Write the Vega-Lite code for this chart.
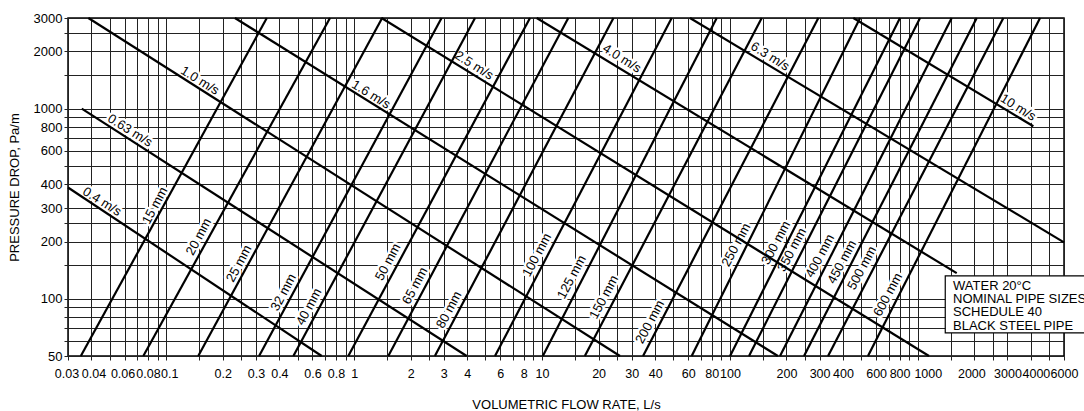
{
  "$schema": "https://vega.github.io/schema/vega-lite/v6.json",
  "width": 996,
  "height": 338,
  "autosize": "none",
  "padding": {"left": 68, "top": 18, "right": 20, "bottom": 55},
  "background": "white",
  "config": {
    "font": "Liberation Sans",
    "view": {"stroke": "#000", "strokeWidth": 1.5}
  },
  "datasets": {
    "pipes": [
      {"name": "15 mm", "q": 0.0351, "dp": 50}, {"name": "15 mm", "q": 0.343, "dp": 3000},
      {"name": "20 mm", "q": 0.0755, "dp": 50}, {"name": "20 mm", "q": 0.744, "dp": 3000},
      {"name": "25 mm", "q": 0.148, "dp": 50}, {"name": "25 mm", "q": 1.41, "dp": 3000},
      {"name": "32 mm", "q": 0.312, "dp": 50}, {"name": "32 mm", "q": 2.92, "dp": 3000},
      {"name": "40 mm", "q": 0.475, "dp": 50}, {"name": "40 mm", "q": 4.40, "dp": 3000},
      {"name": "50 mm", "q": 0.931, "dp": 50}, {"name": "50 mm", "q": 8.63, "dp": 3000},
      {"name": "65 mm", "q": 1.52, "dp": 50}, {"name": "65 mm", "q": 13.8, "dp": 3000},
      {"name": "80 mm", "q": 2.69, "dp": 50}, {"name": "80 mm", "q": 24.0, "dp": 3000},
      {"name": "100 mm", "q": 5.62, "dp": 50}, {"name": "100 mm", "q": 49.0, "dp": 3000},
      {"name": "125 mm", "q": 10.1, "dp": 50}, {"name": "125 mm", "q": 85.1, "dp": 3000},
      {"name": "150 mm", "q": 16.9, "dp": 50}, {"name": "150 mm", "q": 147.7, "dp": 3000},
      {"name": "200 mm", "q": 34.5, "dp": 50}, {"name": "200 mm", "q": 295.6, "dp": 3000},
      {"name": "250 mm", "q": 62.6, "dp": 50}, {"name": "250 mm", "q": 493, "dp": 3000},
      {"name": "300 mm", "q": 100.2, "dp": 50}, {"name": "300 mm", "q": 804, "dp": 3000},
      {"name": "350 mm", "q": 126.4, "dp": 50}, {"name": "350 mm", "q": 1028, "dp": 3000},
      {"name": "400 mm", "q": 184.8, "dp": 50}, {"name": "400 mm", "q": 1515, "dp": 3000},
      {"name": "450 mm", "q": 248, "dp": 50}, {"name": "450 mm", "q": 2059, "dp": 3000},
      {"name": "500 mm", "q": 333, "dp": 50}, {"name": "500 mm", "q": 2853, "dp": 3000},
      {"name": "600 mm", "q": 543, "dp": 50}, {"name": "600 mm", "q": 4474, "dp": 3000}
    ],
    "velocities": [
      {"name": "0.4 m/s", "q": 0.03, "dp": 385}, {"name": "0.4 m/s", "q": 0.672, "dp": 50},
      {"name": "0.63 m/s", "q": 0.0355, "dp": 1000}, {"name": "0.63 m/s", "q": 3.97, "dp": 50},
      {"name": "1.0 m/s", "q": 0.0385, "dp": 3000}, {"name": "1.0 m/s", "q": 26.0, "dp": 50},
      {"name": "1.6 m/s", "q": 0.232, "dp": 3000}, {"name": "1.6 m/s", "q": 180, "dp": 50},
      {"name": "2.5 m/s", "q": 1.40, "dp": 3000}, {"name": "2.5 m/s", "q": 1147, "dp": 50},
      {"name": "4.0 m/s", "q": 9.37, "dp": 3000}, {"name": "4.0 m/s", "q": 1611, "dp": 136.4},
      {"name": "6.3 m/s", "q": 61.3, "dp": 3000}, {"name": "6.3 m/s", "q": 6000, "dp": 198},
      {"name": "10 m/s", "q": 453.9, "dp": 3000}, {"name": "10 m/s", "q": 4121, "dp": 808}
    ],
    "pipeLabels": [
      {"name": "15 mm", "q": 0.0871, "dp": 309},
      {"name": "20 mm", "q": 0.149, "dp": 212},
      {"name": "25 mm", "q": 0.244, "dp": 153},
      {"name": "32 mm", "q": 0.421, "dp": 108},
      {"name": "40 mm", "q": 0.575, "dp": 90.6},
      {"name": "50 mm", "q": 1.515, "dp": 156},
      {"name": "65 mm", "q": 2.11, "dp": 117},
      {"name": "80 mm", "q": 3.2, "dp": 87.4},
      {"name": "100 mm", "q": 9.41, "dp": 170},
      {"name": "125 mm", "q": 14.4, "dp": 130},
      {"name": "150 mm", "q": 21.4, "dp": 102},
      {"name": "200 mm", "q": 37.6, "dp": 75.5},
      {"name": "250 mm", "q": 108, "dp": 192},
      {"name": "300 mm", "q": 176, "dp": 197},
      {"name": "350 mm", "q": 214, "dp": 181},
      {"name": "400 mm", "q": 302, "dp": 168},
      {"name": "450 mm", "q": 395, "dp": 156},
      {"name": "500 mm", "q": 505, "dp": 145},
      {"name": "600 mm", "q": 694, "dp": 105}
    ],
    "velLabels": [
      {"name": "0.4 m/s", "q": 0.0455, "dp": 324},
      {"name": "0.63 m/s", "q": 0.0641, "dp": 767},
      {"name": "1.0 m/s", "q": 0.151, "dp": 1406},
      {"name": "1.6 m/s", "q": 1.23, "dp": 1187},
      {"name": "2.5 m/s", "q": 4.35, "dp": 1688},
      {"name": "4.0 m/s", "q": 26.6, "dp": 1837},
      {"name": "6.3 m/s", "q": 163.5, "dp": 1882},
      {"name": "10 m/s", "q": 3417, "dp": 1014}
    ],
    "box": [{"q": 1400, "q2": 9300, "dp": 132, "dp2": 66.1}],
    "note": [{"name": "WATER 20°C\nNOMINAL PIPE SIZES\nSCHEDULE 40\nBLACK STEEL PIPE", "q": 1540, "dp": 111.4}]
  },
  "encoding": {
    "x": {
      "field": "q", "type": "quantitative",
      "scale": {"type": "log", "domain": [0.03, 6000], "nice": false},
      "axis": {
        "title": "VOLUMETRIC FLOW RATE, L/s",
        "values": [0.03,0.04,0.05,0.06,0.07,0.08,0.09,0.1,0.15,0.2,0.25,0.3,0.4,0.5,0.6,0.7,0.8,0.9,1,1.5,2,2.5,3,4,5,6,7,8,9,10,15,20,25,30,40,50,60,70,80,90,100,150,200,250,300,400,500,600,700,800,900,1000,1500,2000,2500,3000,4000,5000,6000],
        "format": "~g",
        "labelExpr": "indexof([0.03,0.04,0.06,0.08,0.1,0.2,0.3,0.4,0.6,0.8,1,2,3,4,6,8,10,20,30,40,60,80,100,200,300,400,600,800,1000,2000,3000,4000,6000], datum.value) >= 0 ? datum.label : ''",
        "labelOffset": {
          "condition": [
            {"test": "datum.value === 1000", "value": 10},
            {"test": "datum.value === 4000", "value": 5},
            {"test": "datum.value === 0.1", "value": 3},
            {"test": "datum.value === 0.06", "value": -2},
            {"test": "datum.value === 0.04", "value": 2},
            {"test": "datum.value === 0.03", "value": -1.5},
            {"test": "datum.value === 2000", "value": -3}
          ],
          "value": 0
        },
        "grid": true, "gridColor": "#222", "gridWidth": 1,
        "ticks": true, "tickSize": 4, "tickColor": "#222",
        "domain": false,
        "labelFontSize": 12.5, "labelColor": "#000", "labelPadding": 7,
        "labelOverlap": false, "labelFlush": false, "labelBound": false,
        "titleFontSize": 13, "titleFontWeight": "normal", "titleColor": "#000", "titlePadding": 19
      }
    },
    "y": {
      "field": "dp", "type": "quantitative",
      "scale": {"type": "log", "domain": [50, 3000], "nice": false},
      "axis": {
        "title": "PRESSURE DROP, Pa/m",
        "values": [50,60,70,80,90,100,150,200,250,300,400,500,600,700,800,900,1000,1500,2000,2500,3000],
        "format": "~g",
        "labelExpr": "indexof([50,100,200,300,400,600,800,1000,2000,3000], datum.value) >= 0 ? datum.label : ''",
        "grid": true, "gridColor": "#222", "gridWidth": 1,
        "ticks": true, "tickSize": 4, "tickColor": "#222",
        "domain": false,
        "labelFontSize": 13, "labelColor": "#000", "labelPadding": 2,
        "labelOverlap": false, "labelFlush": false, "labelBound": false,
        "titleFontSize": 13, "titleFontWeight": "normal", "titleColor": "#000", "titlePadding": 12
      }
    }
  },
  "layer": [
    {
      "data": {"name": "pipeLabels"},
      "mark": {"type": "text", "angle": 298, "fontSize": 13, "fill": "white", "stroke": "white", "strokeWidth": 5, "strokeJoin": "round"},
      "encoding": {"text": {"field": "name", "type": "nominal"}}
    },
    {
      "data": {"name": "velLabels"},
      "mark": {"type": "text", "angle": 32, "fontSize": 13, "fill": "white", "stroke": "white", "strokeWidth": 5, "strokeJoin": "round"},
      "encoding": {"text": {"field": "name", "type": "nominal"}}
    },
    {
      "data": {"name": "pipes"},
      "mark": {"type": "line", "color": "#000", "strokeWidth": 2.2},
      "encoding": {"detail": {"field": "name", "type": "nominal"}}
    },
    {
      "data": {"name": "velocities"},
      "mark": {"type": "line", "color": "#000", "strokeWidth": 2.2},
      "encoding": {"detail": {"field": "name", "type": "nominal"}}
    },
    {
      "data": {"name": "pipeLabels"},
      "mark": {"type": "text", "angle": 298, "fontSize": 13, "fill": "#000"},
      "encoding": {"text": {"field": "name", "type": "nominal"}}
    },
    {
      "data": {"name": "velLabels"},
      "mark": {"type": "text", "angle": 32, "fontSize": 13, "fill": "#000"},
      "encoding": {"text": {"field": "name", "type": "nominal"}}
    },
    {
      "data": {"name": "box"},
      "mark": {"type": "rect", "fill": "white", "stroke": "#000", "strokeWidth": 1.2},
      "encoding": {"x2": {"field": "q2"}, "y2": {"field": "dp2"}}
    },
    {
      "data": {"name": "note"},
      "mark": {"type": "text", "align": "left", "baseline": "alphabetic", "fontSize": 13, "lineHeight": 13.3, "lineBreak": "\n", "fill": "#000"},
      "encoding": {"text": {"field": "name", "type": "nominal"}}
    }
  ]
}
